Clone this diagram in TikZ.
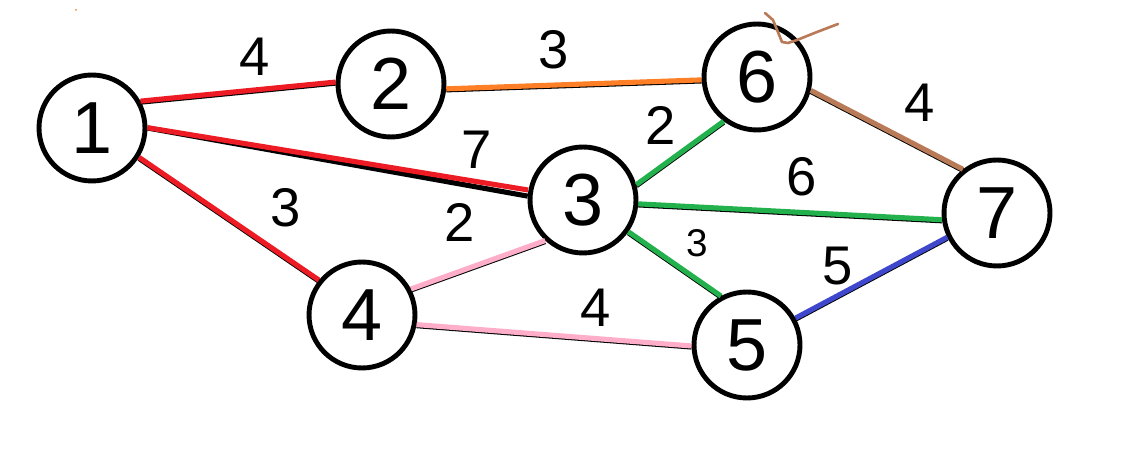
\documentclass[tikz,border=0pt]{standalone}
\usepackage{fontspec}
\setmainfont{Liberation Sans}
\usepackage{xcolor}
\definecolor{edgered}{HTML}{ED1C24}
\definecolor{edgeorange}{HTML}{FF7F27}
\definecolor{edgegreen}{HTML}{22B14C}
\definecolor{edgepink}{HTML}{FFAEC9}
\definecolor{edgebrown}{HTML}{B97A57}
\definecolor{edgeblue}{HTML}{3F48CC}
\begin{document}
\begin{tikzpicture}[x=0.02cm, y=-0.02cm]
                % Stili per vertici, archi e pesi
                \tikzset{
                    vertex/.style={
                        circle,
                        draw=black,
                        line width=2.8pt,
                        inner sep=0pt,
                        minimum size=2.12cm,
                        font=\fontsize{42}{44}\selectfont
                    },
                    arc/.style={
                        line width=2.9pt,
                        preaction={draw=black, line width=2.9pt,
                                   transform canvas={yshift=-0.6pt}}
                    },
                    weight/.style={
                        inner sep=0pt,
                        font=\fontsize{31}{33}\selectfont
                    }
                }
                \useasboundingbox (0,0) rectangle (1135,455);
            
                % Vertici
                \node[vertex] (n1) at (92, 128) {1};
                \node[vertex] (n2) at (391, 84) {2};
                \node[vertex] (n6) at (757, 77) {6};
                \node[vertex] (n3) at (583, 200) {3};
                \node[vertex] (n7) at (997, 213) {7};
                \node[vertex] (n4) at (362, 315) {4};
                \node[vertex] (n5) at (747, 345) {5};
            
                % Archi
                \draw[arc, edgered] (n1.29) -- (n2.178);
                \draw[arc, edgeorange] (n2.-5) -- (n6.183);
                \draw[line width=2.9pt, black] (n1.0) -- (n3.176);
                \draw[line width=2.9pt, edgered, transform canvas={yshift=1.3pt}] (n1.-2) -- (n3.172);
                \draw[arc, edgered] (n1.-32) -- (n4.141);
                \draw[arc, edgegreen] (n6.233) -- (n3.16);
                \draw[arc, edgegreen] (n3.-4) -- (n7.187);
                \draw[arc, edgegreen] (n3.-35) -- (n5.118);
                \draw[arc, edgepink] (n4.28) -- (n3.227);
                \draw[arc, edgepink] (n4.-10) -- (n5.181);
                \draw[arc, edgebrown] (n6.-14) -- (n7.128);
                \draw[arc, edgeblue] (n5.29) -- (n7.206);
            
                % Pesi
                \node[weight] (w12) at (255, 57) {4};
                \node[weight] (w26) at (554, 50) {3};
                \node[weight] (w13) at (477, 150) {7};
                \node[weight] (w14) at (286, 208) {3};
                \node[weight] (w63) at (661, 125) {2};
                \node[weight] (w37) at (802, 177) {6};
                \node[weight] (w67) at (920, 103) {4};
                \node[weight, font=\fontsize{22}{24}\selectfont] (w35) at (697, 243) {3};
                \node[weight] (w57) at (838, 266) {5};
                \node[weight] (w43) at (460, 222) {2};
                \node[weight] (w45) at (596, 308) {4};
            
                % Scarabocchio
                \draw[edgebrown, line width=1.5pt, line cap=round, line join=round]
                    (765, 13) -- (773, 20) -- (782, 42) -- (788, 43) -- (797, 40)
                    -- (817, 32) -- (838, 24);
                \fill[edgeorange] (76, 10) circle (1);
\end{tikzpicture}
\end{document}
